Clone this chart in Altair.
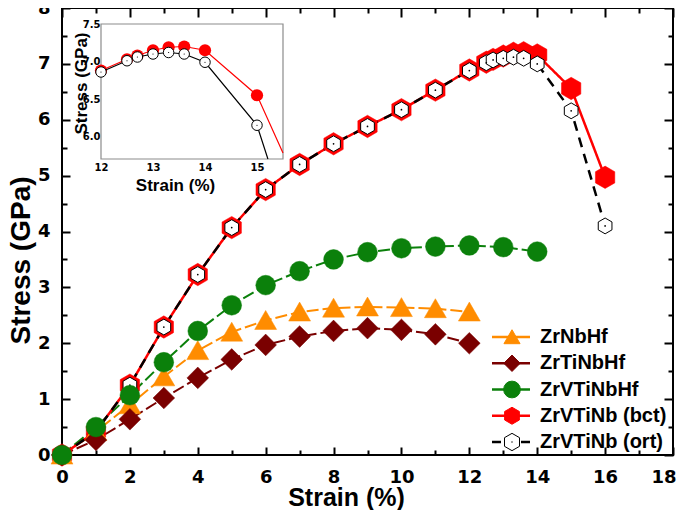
import altair as alt
import pandas as pd

# ---------------- data ----------------
strain_12 = [0, 1, 2, 3, 4, 5, 6, 7, 8, 9, 10, 11, 12]
zrnbhf = [0.0, 0.42, 0.90, 1.40, 1.87, 2.20, 2.41, 2.56, 2.63, 2.65, 2.64, 2.62, 2.56]
zrtinbhf = [0.0, 0.27, 0.64, 1.02, 1.38, 1.71, 1.97, 2.12, 2.22, 2.27, 2.24, 2.16, 2.00]

strain_14 = [0, 1, 2, 3, 4, 5, 6, 7, 8, 9, 10, 11, 12, 13, 14]
zrvtinbhf = [0.0, 0.50, 1.07, 1.66, 2.22, 2.68, 3.04, 3.29, 3.50, 3.63, 3.70, 3.73, 3.75, 3.72, 3.64]

strain_nb = [0, 1, 2, 3, 4, 5, 6, 7, 8, 9, 10, 11, 12, 12.5, 12.7, 13, 13.3, 13.6, 14, 15, 16]
zrvtinb_bct = [0.0, 0.42, 1.25, 2.29, 3.23, 4.07, 4.75, 5.20, 5.57, 5.88, 6.18, 6.53, 6.89,
               7.03, 7.08, 7.14, 7.19, 7.20, 7.16, 6.56, 4.97]
zrvtinb_ort = [0.0, 0.42, 1.25, 2.29, 3.23, 4.07, 4.75, 5.20, 5.57, 5.88, 6.18, 6.53, 6.88,
               7.02, 7.07, 7.10, 7.12, 7.10, 7.00, 6.16, 4.10]

inset_strain = [12, 12.5, 12.7, 13, 13.3, 13.6, 14, 15]
inset_bct = [6.88, 7.03, 7.08, 7.15, 7.19, 7.20, 7.15, 6.55]
inset_ort = [6.86, 7.01, 7.06, 7.10, 7.12, 7.10, 6.99, 6.15]
# where the inset lines leave the inset frame
inset_bct_edge = [15.5, 5.78]
inset_ort_edge = [15.21, 5.70]
inset_x_domain = [12, 15.5]
inset_y_domain = [5.7, 7.5]

x_ticks_major = [0, 2, 4, 6, 8, 10, 12, 14, 16, 18]
x_ticks_minor = [1, 3, 5, 7, 9, 11, 13, 15, 17]
y_ticks_major = [0, 1, 2, 3, 4, 5, 6, 7, 8]
y_ticks_minor = [0.5, 1.5, 2.5, 3.5, 4.5, 5.5, 6.5, 7.5]
inset_x_ticks = [12, 13, 14, 15]
inset_y_ticks = [6.0, 6.5, 7.0, 7.5]

legend_names = ["ZrNbHf", "ZrTiNbHf", "ZrVTiNbHf", "ZrVTiNb (bct)", "ZrVTiNb (ort)"]

# ---------------- styling ----------------
ORANGE = "#FF8C00"
MAROON = "#7A0000"
GREEN = "#0B800B"
RED = "#FF0000"
HEX = "M0,-1L0.866,-0.5L0.866,0.5L0,1L-0.866,0.5L-0.866,-0.5Z"
TRI = "M0,-0.9L1,0.83L-1,0.83Z"
DIA = "M0,-1L1,0L0,1L-1,0Z"
TICKFONT = "DejaVu Sans"
TITLEFONT = "Liberation Sans"

W, H = 611, 447


def df(xs, ys):
    return pd.DataFrame({"strain": xs, "stress": ys})


main_x_scale = alt.Scale(domain=[0, 18], nice=False, zero=False)
main_y_scale = alt.Scale(domain=[0, 8], nice=False, zero=False)

X = alt.X("strain:Q", scale=main_x_scale, axis=alt.Axis(
    orient="bottom", values=x_ticks_major, offset=-8, tickSize=8, tickWidth=2,
    tickColor="black", domain=False, grid=False, labelFont=TICKFONT, labelFontSize=18,
    labelFontWeight="bold", labelColor="black", labelPadding=13, labelFlush=False,
    labelOverlap=False,
    labelAlign={"condition": {"test": "datum.value === 18", "value": "right"}, "value": "center"},
    labelOffset={"condition": {"test": "datum.value === 18", "value": 3}, "value": 0},
    title="Strain (%)", titleFont=TITLEFONT, titleFontSize=25,
    titleFontWeight="bold", titleColor="black", titleX=284, titleY=58,
    titleAlign="center", titleBaseline="alphabetic"))
Y = alt.Y("stress:Q", scale=main_y_scale, axis=alt.Axis(
    orient="left", values=y_ticks_major, offset=-8, tickSize=8, tickWidth=2,
    tickColor="black", domain=False, grid=False, labelFont=TICKFONT, labelFontSize=18,
    labelFontWeight="bold", labelColor="black", labelPadding=12, labelOverlap=False,
    title="Stress (GPa)", titleFont=TITLEFONT, titleFontSize=28, titleFontWeight="bold",
    titleColor="black", titleX=-41, titleY=252, titleAngle=270,
    titleAlign="center", titleBaseline="alphabetic"))


def line(d, color, width, dash):
    return alt.Chart(d).mark_line(color=color, strokeWidth=width, strokeDash=dash).encode(x=X, y=Y)


def pts(d, shape, size, fill, stroke, sw=0.0):
    return alt.Chart(d).mark_point(shape=shape, size=size, filled=True, fill=fill,
                                   stroke=stroke, strokeWidth=sw, opacity=1,
                                   fillOpacity=1).encode(x=X, y=Y)


d_nbhf = df(strain_12, zrnbhf)
d_tinbhf = df(strain_12, zrtinbhf)
d_vtinbhf = df(strain_14, zrvtinbhf)
d_bct = df(strain_nb, zrvtinb_bct)
d_ort = df(strain_nb, zrvtinb_ort)

main = alt.layer(
    line(d_nbhf, ORANGE, 2, [12, 4]),
    line(d_tinbhf, MAROON, 2, [12, 4]),
    line(d_vtinbhf, GREEN, 2, [12, 4]),
    line(d_bct, RED, 2.5, [1, 0]),
    line(d_ort, "black", 2.5, [10, 7]),
    pts(d_bct, HEX, 500, RED, RED, 0.5),
    pts(d_ort, HEX, 250, "white", "black", 1),
    pts(d_ort, "circle", 3, "black", "black", 0),
    pts(d_nbhf, TRI, 480, ORANGE, ORANGE, 0.5),
    pts(d_tinbhf, DIA, 470, MAROON, MAROON, 0.5),
    pts(d_vtinbhf, "circle", 390, GREEN, GREEN, 0.5),
)

# ---- extra tick-only axes (minor ticks, mirrored top/right ticks) ----
d_dummy = df([0, 18], [0, 8])


def tick_axis_layer(orient_x, orient_y, xvals, yvals, size):
    ax_x = alt.Axis(orient=orient_x, values=xvals, offset=-size, tickSize=size,
                    tickWidth=2, tickColor="black", domain=False, grid=False,
                    labels=False, title=None)
    ax_y = alt.Axis(orient=orient_y, values=yvals, offset=-size, tickSize=size,
                    tickWidth=2, tickColor="black", domain=False, grid=False,
                    labels=False, title=None)
    return alt.Chart(d_dummy).mark_point(opacity=0).encode(
        x=alt.X("strain:Q", scale=alt.Scale(domain=[0, 18], nice=False, zero=False), axis=ax_x),
        y=alt.Y("stress:Q", scale=alt.Scale(domain=[0, 8], nice=False, zero=False), axis=ax_y),
    )


minor_bl = tick_axis_layer("bottom", "left", x_ticks_minor, y_ticks_minor, 5)
major_tr = tick_axis_layer("top", "right", x_ticks_major, y_ticks_major, 9)
minor_tr = tick_axis_layer("top", "right", x_ticks_minor, y_ticks_minor, 5)

# ---------------- inset ----------------
ISX = alt.Scale(domain=inset_x_domain, range=[39, 221], nice=False, zero=False)
ISY = alt.Scale(domain=inset_y_domain, range=[151, 16], nice=False, zero=False)
AXI = alt.Axis(
    orient="bottom", offset=-296, values=inset_x_ticks, tickSize=0, domain=False,
    grid=False, labelFont=TICKFONT, labelFontSize=10, labelFontWeight="bold",
    labelColor="black", labelPadding=3, labelFlush=False, format="d",
    title="Strain (%)", titleFont=TITLEFONT, titleFontSize=17, titleFontWeight="bold",
    titleColor="black", titleX=113, titleY=31, titleAlign="center",
    titleBaseline="alphabetic")
AYI = alt.Axis(
    orient="left", offset=-39, values=inset_y_ticks, tickSize=0, domain=False,
    grid=False, labelFont=TICKFONT, labelFontSize=10, labelFontWeight="bold",
    labelColor="black", labelPadding=1, format=".1f",
    title="Stress (GPa)", titleFont=TITLEFONT, titleFontSize=17, titleFontWeight="bold",
    titleColor="black", titleX=-15, titleY=75, titleAngle=270, titleAlign="center",
    titleBaseline="alphabetic")
XI = alt.X("strain:Q", scale=ISX, axis=AXI)
YI = alt.Y("stress:Q", scale=ISY, axis=AYI)

d_frame = pd.DataFrame({"x0": [inset_x_domain[0]], "x1": [inset_x_domain[1]],
                        "y0": [inset_y_domain[0]], "y1": [inset_y_domain[1]]})
frame = alt.Chart(d_frame).mark_rect(fillOpacity=0, stroke="#8c8c8c", strokeWidth=1.2).encode(
    x=alt.X("x0:Q", scale=ISX, axis=AXI), x2="x1:Q",
    y=alt.Y("y0:Q", scale=ISY, axis=AYI), y2="y1:Q")

di_bct = df(inset_strain, inset_bct)
di_ort = df(inset_strain, inset_ort)
di_bct_line = df(inset_strain + [inset_bct_edge[0]], inset_bct + [inset_bct_edge[1]])
di_ort_line = df(inset_strain + [inset_ort_edge[0]], inset_ort + [inset_ort_edge[1]])

inset = alt.layer(
    frame,
    alt.Chart(di_bct_line).mark_line(color=RED, strokeWidth=1.2).encode(x=XI, y=YI),
    alt.Chart(di_bct).mark_point(shape="circle", size=150, filled=True, fill=RED,
                                 stroke=RED, strokeWidth=0, opacity=1).encode(x=XI, y=YI),
    alt.Chart(di_ort_line).mark_line(color="black", strokeWidth=1.2).encode(x=XI, y=YI),
    alt.Chart(di_ort).mark_point(shape="circle", size=110, filled=True, fill="white",
                                 stroke="black", strokeWidth=1, opacity=1).encode(x=XI, y=YI),
    alt.Chart(di_ort).mark_point(shape="circle", size=1.5, filled=True, fill="black",
                                 opacity=1).encode(x=XI, y=YI),
)

# ---------------- legend (drawn inside the plot) ----------------
d_leg = pd.DataFrame({"name": legend_names})
LY = alt.Y("name:N", scale=alt.Scale(type="point", domain=legend_names, range=[329, 434],
                                     padding=0), axis=None)
leg_colors = [ORANGE, MAROON, GREEN, RED, "black"]
leg_fills = [ORANGE, MAROON, GREEN, RED, "white"]
leg_shapes = [TRI, DIA, "circle", HEX, HEX]
leg_sizes = [260, 300, 225, 300, 240]

leg_rule_solid = alt.Chart(d_leg).transform_filter(
    alt.FieldOneOfPredicate(field="name", oneOf=legend_names[:4])
).mark_rule(strokeWidth=2.5).encode(
    x=alt.value(430), x2=alt.value(468), y=LY,
    color=alt.Color("name:N", scale=alt.Scale(domain=legend_names, range=leg_colors), legend=None))
leg_rule_dash = alt.Chart(d_leg).transform_filter(
    alt.FieldEqualPredicate(field="name", equal=legend_names[4])
).mark_rule(strokeWidth=2.5, color="black", strokeDash=[9, 20]).encode(
    x=alt.value(430), x2=alt.value(468), y=LY)
leg_pts = alt.Chart(d_leg).mark_point(filled=True, opacity=1, strokeWidth=1).encode(
    x=alt.value(450), y=LY,
    shape=alt.Shape("name:N", scale=alt.Scale(domain=legend_names, range=leg_shapes), legend=None),
    fill=alt.Fill("name:N", scale=alt.Scale(domain=legend_names, range=leg_fills), legend=None),
    stroke=alt.Stroke("name:N", scale=alt.Scale(domain=legend_names, range=leg_colors), legend=None),
    size=alt.Size("name:O", scale=alt.Scale(domain=legend_names, range=leg_sizes), legend=None))
leg_dot = alt.Chart(d_leg).transform_filter(
    alt.FieldEqualPredicate(field="name", equal=legend_names[4])
).mark_point(filled=True, fill="black", size=2, opacity=1).encode(x=alt.value(450), y=LY)
leg_text = alt.Chart(d_leg).mark_text(align="left", baseline="middle", font=TITLEFONT,
                                      fontSize=20, fontWeight="bold", color="black").encode(
    x=alt.value(478), y=LY, text="name:N")

legend = alt.layer(leg_rule_solid, leg_rule_dash, leg_pts, leg_dot, leg_text)

chart = alt.layer(main, minor_bl, major_tr, minor_tr, inset, legend).resolve_scale(
    x="independent", y="independent"
).properties(
    width=W, height=H,
    padding={"left": 54, "top": 0, "right": 4, "bottom": 55},
    autosize=alt.AutoSizeParams(type="none"),
    background="white",
).configure_view(stroke="black", strokeWidth=2)

chart.save("out.html", embed_options={"renderer": "svg", "actions": False})
